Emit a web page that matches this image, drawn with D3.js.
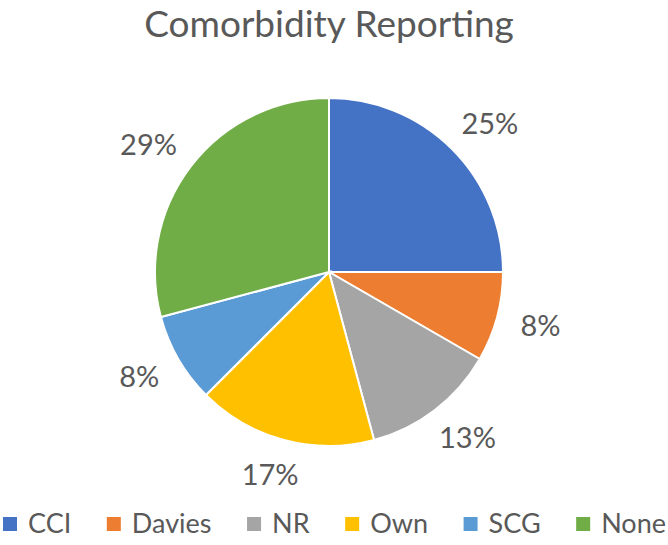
<!DOCTYPE html>
<html lang="en">
<head>
  <meta charset="UTF-8">
  <title>Comorbidity Reporting</title>
  <script src="https://d3js.org/d3.v7.min.js"></script>
  <style>
    html, body {
      margin: 0;
      padding: 0;
      background: #fff;
    }
    svg text {
      font-family: Lato, "Open Sans", sans-serif;
      fill: #595959;
    }
  </style>
</head>
<body>
  <div id="chartDiv"></div>
  <script>
    // Data (counts out of 24 studies)
    var categories = ["CCI", "Davies", "NR", "Own", "SCG", "None"];
    var counts = [6, 2, 3, 4, 2, 7];
    var percentLabels = ["25%", "8%", "13%", "17%", "8%", "29%"];
    var colors = ["#4472c4", "#ed7d31", "#a5a5a5", "#ffc000", "#5b9bd5", "#70ad47"];

    var width = 668, height = 545;
    var cx = 329, cy = 272, radius = 174, labelRadius = 199;

    var svg = d3.select("#chartDiv").append("svg")
      .attr("width", width)
      .attr("height", height);

    // Title
    svg.append("text")
      .attr("x", cx)
      .attr("y", 37)
      .attr("text-anchor", "middle")
      .style("font-size", "37px")
      .text("Comorbidity Reporting");

    var data = categories.map(function(c, i) {
      return { name: c, value: counts[i], label: percentLabels[i] };
    });

    var pie = d3.pie().sort(null).value(d => d.value);
    var arc = d3.arc().innerRadius(0).outerRadius(radius);
    var labelArc = d3.arc().innerRadius(labelRadius).outerRadius(labelRadius);
    var color = d3.scaleOrdinal().domain(categories).range(colors);

    var g = svg.append("g").attr("transform", `translate(${cx},${cy})`);
    var arcs = pie(data);

    g.selectAll("path")
      .data(arcs)
      .join("path")
      .attr("d", arc)
      .attr("fill", d => color(d.data.name))
      .attr("stroke", "#fff")
      .attr("stroke-width", 2);

    // Outside-end labels: the box's inner edge sits on labelRadius
    var labelH = 21;
    g.selectAll("text.pct")
      .data(arcs)
      .join("text")
      .attr("class", "pct")
      .attr("text-anchor", "middle")
      .attr("dy", "0.35em")
      .style("font-size", "29px")
      .text(d => d.data.label)
      .attr("transform", function(d) {
        var w = this.getComputedTextLength();
        var a = (d.startAngle + d.endAngle) / 2;
        var p = labelArc.centroid(d);
        return `translate(${p[0] + Math.sin(a) * w / 2},${p[1] - Math.cos(a) * labelH / 2})`;
      });

    // Legend spread across the full width, like the reference
    var legend = svg.append("g").attr("transform", "translate(0,524)");
    var sq = 14, sqGap = 11, legendLeft = 3, legendRight = 666;
    var items = legend.selectAll("g")
      .data(categories)
      .join("g");
    items.append("rect")
      .attr("width", sq)
      .attr("height", sq)
      .attr("y", -sq / 2)
      .attr("fill", d => color(d));
    items.append("text")
      .attr("x", sq + sqGap)
      .attr("dy", "0.35em")
      .style("font-size", "27px")
      .text(d => d);

    var widths = [];
    items.each(function() {
      widths.push(sq + sqGap + d3.select(this).select("text").node().getComputedTextLength());
    });
    var itemGap = (legendRight - legendLeft - d3.sum(widths)) / (widths.length - 1);
    var xs = [], pos = legendLeft;
    widths.forEach(function(w) { xs.push(pos); pos += w + itemGap; });
    items.attr("transform", (d, i) => `translate(${xs[i]},0)`);
  </script>
</body>
</html>
